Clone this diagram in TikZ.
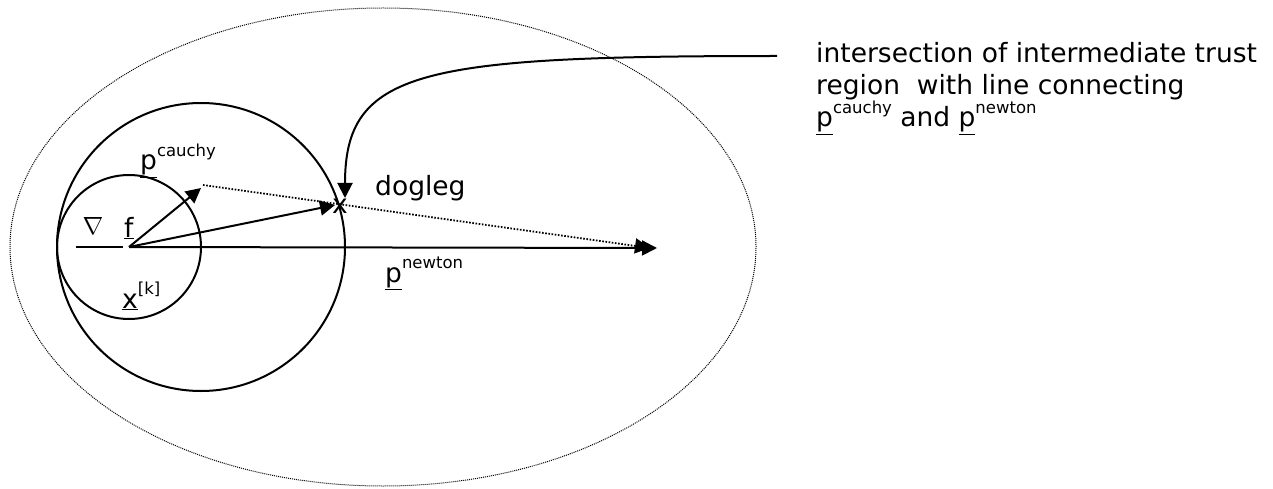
\documentclass[tikz,border=0pt]{standalone}
\usepackage{fontspec}
\setmainfont{DejaVu Sans}
\usetikzlibrary{arrows.meta}
\newcommand\supx[1]{\raisebox{0.5em}{\fontsize{16.5}{16.5}\selectfont #1}}
\begin{document}
\begin{tikzpicture}[x=1pt,y=-1pt,
  lbl/.style={inner sep=0pt, anchor=base west, font=\fontsize{26.5}{33}\selectfont},
  solidline/.style={line width=2pt},
  tipped/.style={-{Triangle[length=15pt,width=15pt]}},
  dotline/.style={line width=1.8pt, dash pattern=on 1.6pt off 1.6pt},
  fineline/.style={line width=1pt, dash pattern=on 1pt off 1pt}]
\useasboundingbox (0,0) rectangle (1273,489);
% regions
\draw[fineline] (383,247) ellipse [x radius=373pt, y radius=239pt];
\draw[solidline] (201,247) circle [radius=144pt];
\draw[solidline] (129,247) circle [radius=72pt];
% points
\coordinate (O) at (129,247);
\coordinate (PC) at (201,188);
\coordinate (PCd) at (203,185);
\coordinate (PN) at (657,248);
\coordinate (PNd) at (650,248);
\coordinate (XT) at (335,205);
\coordinate (C0) at (777,56);
\coordinate (CT) at (345,198);
\node[inner sep=0pt, font=\fontsize{26.5}{33}\selectfont] (X) at (340,206) {x};
% arrows
\draw[solidline, tipped] (O) -- (PN);
\draw[dotline, tipped] (PCd) -- (PNd);
\draw[solidline, tipped] (O) -- (PC);
\draw[solidline, tipped] (O) -- (XT);
\draw[solidline, tipped] (C0) .. controls (420,56) and (345,70) .. (CT);
% labels
\node[inner sep=0pt, font=\fontsize{28}{28}\selectfont] (nabla) at (93,226) {$\nabla$};
\draw[solidline] (76,247) -- (123,247);
\node[lbl] (f) at (124,237) {\underline{f}};
\node[lbl] (pc) at (140,170) {\underline{p}\supx{cauchy}};
\node[lbl] (xk) at (122,308) {\underline{x}\supx{[k]}};
\node[lbl] (dog) at (375,195) {dogleg};
\node[lbl] (pn) at (385,282) {\underline{p}\supx{newton}};
\node[lbl] (t1) at (816,63) {intersection of intermediate trust};
\node[lbl] (t2) at (816,95) {region\ \ with line connecting};
\node[lbl] (t3) at (816,127) {\underline{p}\supx{cauchy} and \underline{p}\supx{newton}};
\end{tikzpicture}
\end{document}
